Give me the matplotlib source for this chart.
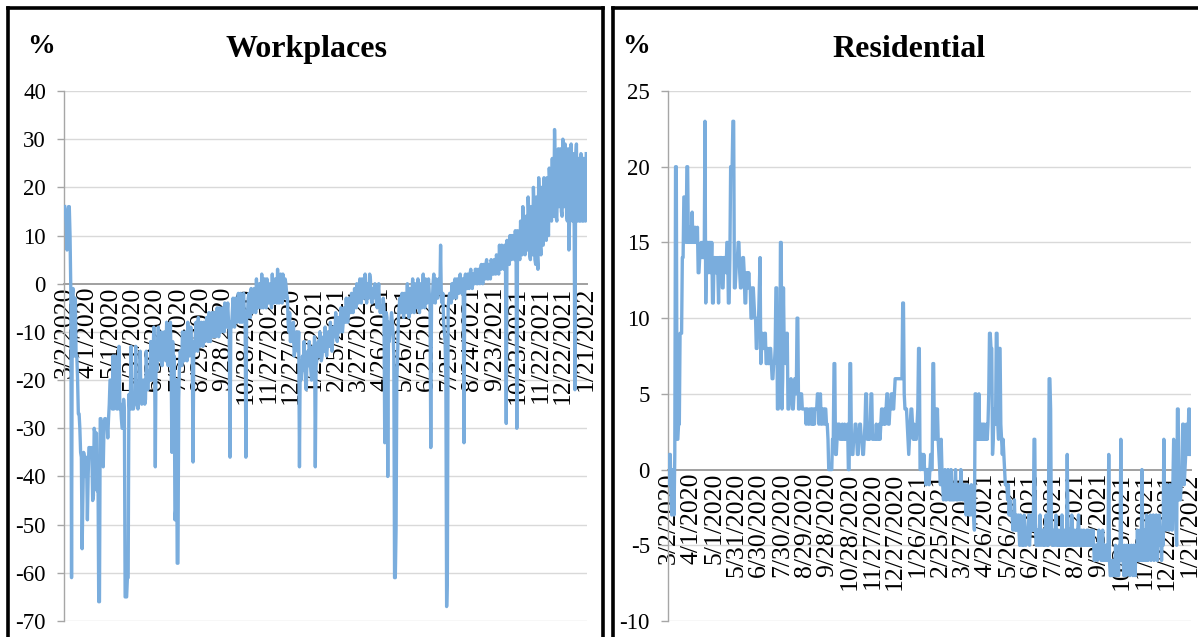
import matplotlib
matplotlib.use("Agg")
import matplotlib.pyplot as plt
from matplotlib.lines import Line2D
import pandas as pd
import numpy as np

plt.rcParams['font.family'] = ['Liberation Serif', 'DejaVu Serif']

start_date = "2020-03-02"

date_labels = ["3/2/2020", "4/1/2020", "5/1/2020", "5/31/2020", "6/30/2020", "7/30/2020",
               "8/29/2020", "9/28/2020", "10/28/2020", "11/27/2020", "12/27/2020", "1/26/2021",
               "2/25/2021", "3/27/2021", "4/26/2021", "5/26/2021", "6/25/2021", "7/25/2021",
               "8/24/2021", "9/23/2021", "10/23/2021", "11/22/2021", "12/22/2021", "1/21/2022"]

workplaces = [
    16, 15, 12, 7, 10, 16, 16,
    10, -1, -61, -2, -1, -10, -15,
    -3, -15, -15, -20, -27, -27, -30,
    -35, -36, -55, -45, -35, -36, -40,
    -36, -38, -49, -40, -34, -34, -35,
    -34, -36, -45, -44, -30, -31, -32,
    -31, -43, -38, -66, -66, -28, -28,
    -29, -30, -38, -30, -28, -28, -29,
    -29, -32, -28, -25, -20, -20, -22,
    -26, -15, -26, -20, -15, -24, -26,
    -26, -22, -13, -26, -25, -28, -30,
    -30, -24, -26, -65, -65, -65, -61,
    -61, -23, -26, -23, -13, -26, -26,
    -26, -25, -24, -13, -22, -25, -26,
    -24, -22, -14, -24, -25, -23, -20,
    -20, -25, -24, -14, -20, -22, -20,
    -18, -20, -12, -20, -18, -15, -9,
    -15, -38, -14, -18, -12, -9, -15,
    -14, -16, -10, -17, -15, -12, -10,
    -15, -16, -8, -14, -17, -15, -10,
    -8, -17, -35, -12, -18, -15, -49,
    -47, -20, -58, -58, -24, -17, -14,
    -15, -17, -10, -12, -16, -14, -10,
    -13, -16, -8, -13, -15, -12, -9,
    -12, -15, -37, -12, -14, -11, -8,
    -12, -14, -7, -12, -13, -10, -8,
    -11, -13, -8, -11, -12, -9, -7,
    -10, -12, -6, -11, -12, -9, -6,
    -9, -11, -6, -10, -11, -8, -5,
    -9, -11, -5, -10, -10, -7, -5,
    -8, -10, -4, -9, -9, -6, -4,
    -8, -10, -36, -8, -9, -6, -3,
    -7, -9, -3, -7, -8, -5, -2,
    -6, -8, -2, -7, -8, -4, -2,
    -6, -8, -36, -6, -7, -3, -2,
    -5, -7, -1, -6, -6, -3, -1,
    -4, -6, 1, -5, -5, -2, 0,
    -4, -5, 2, -4, -5, -1, 1,
    -3, -5, 1, -4, -4, -1, 0,
    -3, -5, 2, -3, -4, 0, 1,
    -3, -4, 3, -3, -4, 0, 2,
    -2, -4, 2, -3, -3, 1, 0,
    -2, -3, -8, -10, -6, -12, -10,
    -10, -12, -8, -15, -14, -12, -10,
    -12, -14, -10, -38, -16, -20, -18,
    -15, -18, -12, -16, -20, -22, -16,
    -14, -17, -12, -15, -18, -20, -15,
    -13, -16, -11, -38, -17, -16, -13,
    -12, -15, -10, -14, -16, -15, -12,
    -11, -14, -9, -13, -15, -13, -10,
    -10, -13, -8, -12, -14, -12, -9,
    -9, -11, -6, -10, -12, -10, -7,
    -8, -10, -5, -9, -10, -8, -5,
    -6, -8, -3, -7, -8, -6, -3,
    -5, -6, -2, -5, -6, -4, -1,
    -4, -5, 0, -4, -4, -2, 1,
    -3, -4, 1, -3, -3, -1, 2,
    -2, -4, 0, -3, -2, 2, 1,
    -3, -4, -1, -3, -2, 0, -1,
    -4, -5, -2, 0, -4, -6, -5,
    -5, -6, -3, -5, -33, -8, -6,
    -7, -40, -8, -12, -10, -8, -6,
    -8, -10, -15, -61, -61, -51, -20,
    -15, -8, -5, -3, -6, -4, -2,
    -5, -7, -2, -4, -6, -3, 0,
    -4, -7, -1, -4, -6, -2, 1,
    -4, -6, 0, -3, -5, -1, 1,
    -3, -6, 0, -3, -5, -1, 2,
    -3, -5, 1, -2, -4, 0, 1,
    -2, -4, -34, -3, -4, 0, 2,
    -2, -4, 1, -2, -3, 0, 1,
    -2, 8, -3, -4, -2, -8, -10,
    -12, -20, -67, -60, -5, -3, -2,
    -3, -4, 0, -2, -3, 0, 1,
    -2, -3, 1, -2, -2, 1, 2,
    -1, -2, 1, -1, -33, 1, 2,
    -1, -1, 2, 0, -1, 2, 3,
    0, -1, 2, 0, 0, 3, 3,
    0, 0, 3, 1, 0, 3, 4,
    1, 0, 4, 1, 1, 4, 5,
    1, 1, 4, 2, 1, 5, 4,
    2, 2, 5, 3, 2, 6, 5,
    3, 2, 8, 4, 3, 8, 6,
    4, 3, 8, 4, -29, 9, 7,
    5, 4, 10, 6, 5, 10, 8,
    6, 5, 11, 7, -30, 11, 9,
    6, 5, 13, 7, 6, 16, 12,
    7, 6, 14, 8, 7, 18, 14,
    6, 5, 16, 7, 6, 20, 15,
    5, 4, 18, 6, 3, 22, 17,
    8, 6, 20, 9, 8, 22, 18,
    10, 9, 22, 12, 10, 24, 20,
    14, 13, 26, 15, 14, 32, 24,
    14, 13, 26, 28, 16, 24, 28,
    15, 14, 30, 18, 16, 29, 26,
    14, 13, 28, 7, 14, 27, 29,
    14, 13, 27, 12, -22, 26, 29,
    13, 14, 26, 13, 13, 27, 26,
    13, 13, 26, 14, 13, 27,
]

residential = [
    -1, 1, 1, -2, -3, -1, 0,
    -3, 1, 20, 20, 2, 2, 3,
    3, 9, 9, 9, 14, 14, 18,
    18, 18, 15, 20, 20, 15, 16,
    15, 16, 15, 17, 15, 16, 15,
    16, 15, 15, 16, 13, 13, 14,
    14, 15, 14, 15, 14, 14, 23,
    11, 14, 15, 15, 13, 15, 15,
    13, 15, 11, 11, 14, 14, 13,
    13, 14, 13, 11, 14, 14, 14,
    14, 12, 12, 14, 14, 14, 13,
    15, 15, 11, 11, 14, 20, 20,
    20, 23, 23, 12, 12, 13, 14,
    14, 15, 15, 13, 12, 12, 13,
    14, 14, 13, 11, 11, 13, 13,
    12, 13, 12, 12, 10, 10, 12,
    12, 11, 10, 10, 8, 8, 10,
    10, 12, 14, 7, 8, 9, 8,
    8, 9, 9, 7, 7, 8, 7,
    7, 8, 8, 7, 6, 6, 7,
    7, 8, 12, 12, 4, 4, 6,
    5, 15, 15, 4, 6, 12, 8,
    8, 7, 9, 9, 4, 4, 5,
    5, 6, 5, 4, 4, 5, 6,
    6, 5, 10, 10, 4, 4, 5,
    5, 5, 4, 4, 4, 4, 4,
    3, 4, 4, 3, 3, 4, 4,
    3, 4, 3, 4, 3, 4, 4,
    4, 5, 5, 3, 4, 5, 3,
    3, 4, 4, 3, 4, 4, 3,
    3, 2, 0, 0, 0, 0, 0,
    2, 2, 7, 7, 1, 1, 2,
    3, 3, 3, 2, 2, 2, 3,
    2, 2, 3, 2, 2, 2, 3,
    0, 0, 7, 7, 2, 1, 1,
    2, 2, 3, 3, 2, 1, 1,
    2, 3, 3, 2, 2, 1, 1,
    2, 3, 5, 5, 2, 2, 3,
    2, 3, 5, 5, 2, 2, 2,
    2, 2, 3, 2, 2, 2, 3,
    2, 3, 4, 4, 3, 3, 4,
    3, 4, 5, 5, 3, 3, 4,
    4, 5, 5, 4, 4, 5, 6,
    6, 6, 6, 6, 6, 6, 6,
    6, 6, 11, 11, 5, 4, 4,
    4, 3, 2, 1, 2, 3, 4,
    4, 3, 2, 3, 2, 2, 2,
    3, 4, 8, 8, 0, 0, 1,
    1, 0, 1, 0, 0, -1, 0,
    0, 0, -1, 0, 1, 0, 0,
    7, 7, 2, 3, 4, 2, 4,
    2, 1, 0, -1, 2, 0, -1,
    -2, -1, 0, -2, -2, -1, 0,
    -1, -2, -2, 0, -2, -1, -2,
    -2, -1, 0, -2, -1, -2, -1,
    -1, -2, 0, -1, -2, -1, -2,
    -2, -1, -3, -2, -1, -2, -3,
    -3, -2, -1, -3, -2, -3, -4,
    5, 5, 2, 3, 2, 5, 2,
    2, 3, 2, 3, 2, 3, 2,
    2, 3, 2, 3, 5, 9, 9,
    8, 8, 1, 2, 4, 4, 3,
    9, 9, 3, 2, 8, 8, 3,
    2, 1, 2, 1, 0, -1, -1,
    -1, -2, -1, -3, -2, -3, -3,
    -3, -4, -3, -2, -4, -3, -4,
    -4, -3, -4, -5, -3, -4, -5,
    -4, -5, -3, -4, -5, -4, -4,
    -4, -3, -5, -4, -4, -3, -4,
    -4, 2, 2, -4, -5, -4, -4,
    -5, -4, -3, -5, -4, -4, -5,
    -4, -5, -4, -3, -5, -4, -5,
    6, 6, 4, -4, -5, -4, -5,
    -5, -4, -3, -5, -5, -4, -5,
    -5, -4, -5, -3, -5, -5, -4,
    -5, -4, -5, 1, -4, -5, -4,
    -4, -5, -3, -4, -5, -4, -5,
    -5, -4, -5, -4, -3, -5, -5,
    -5, -4, -5, -5, -4, -5, -5,
    -5, -4, -5, -4, -5, -5, -4,
    -5, -5, -4, -5, -6, -5, -5,
    -5, -6, -5, -4, -5, -5, -6,
    -5, -4, -6, -5, -5, -6, -5,
    -5, -6, 1, -6, -7, -7, -6,
    -7, -6, -7, -7, -5, -7, -6,
    -6, -7, -5, -6, 2, -6, -5,
    -6, -7, -5, -6, -7, -5, -6,
    -6, -5, -7, -6, -5, -6, -7,
    -5, -6, -7, -5, -6, -4, -6,
    -5, -6, -4, -6, 0, -5, -6,
    -5, -4, -6, -3, -5, -6, -4,
    -5, -3, -6, -4, -5, -3, -6,
    -4, -5, -3, -6, -4, -5, -3,
    -4, -5, -6, -4, -5, 2, -3,
    -2, -4, -1, -3, -2, -4, -1,
    -3, -2, -4, -1, 2, -3, -2,
    -4, -5, 4, 4, -2, -1, -2,
    -1, 0, 3, 3, -1, 0, 1,
    3, 2, 1, 4, 4, 1,
]

titles = ["Workplaces", "Residential"]
y_ticks = [list(range(-70, 41, 10)), list(range(-10, 26, 5))]

W, H = 1198, 637
fig = plt.figure(figsize=(W / 100, H / 100), dpi=100)
fig.patch.set_facecolor("white")

def fx(px):
    return px / W

def fy(py):
    return 1 - py / H

start = pd.Timestamp(start_date)
tick_pos = [(pd.Timestamp(pd.to_datetime(lbl, format="%m/%d/%Y")) - start).days for lbl in date_labels]

line_color = "#7AADDD"
series = [workplaces, residential]
axes_left_px = [64, 668]
axes_w_px = 523
axes_top_px, axes_bot_px = 91, 621

for i in range(2):
    ax = fig.add_axes([fx(axes_left_px[i]), fy(axes_bot_px), fx(axes_w_px),
                       (axes_bot_px - axes_top_px) / H])
    vals = series[i]
    ax.plot(np.arange(len(vals)), vals, color=line_color, lw=2.4,
            solid_joinstyle="round", zorder=3)
    ax.set_xlim(-1, 692)
    ax.set_ylim(y_ticks[i][0], y_ticks[i][-1])
    ax.set_yticks(y_ticks[i])
    ax.set_yticklabels([str(t) for t in y_ticks[i]])
    for t in y_ticks[i]:
        if t != 0:
            ax.axhline(t, color="#D9D9D9", lw=1.0, zorder=1)
    ax.spines["top"].set_visible(False)
    ax.spines["right"].set_visible(False)
    ax.spines["left"].set_color("#A6A6A6")
    ax.spines["left"].set_linewidth(1.0)
    ax.spines["bottom"].set_position(("data", 0))
    ax.spines["bottom"].set_color("#A0A0A0")
    ax.spines["bottom"].set_linewidth(1.4)
    ax.spines["bottom"].set_zorder(2)
    ax.set_xticks(tick_pos)
    ax.set_xticklabels(date_labels, rotation=90, ha="center", va="top")
    ax.tick_params(axis="x", length=0, pad=2, labelsize=18.5, colors="black")
    ax.tick_params(axis="y", length=5, width=1, color="#A6A6A6", pad=8,
                   labelsize=16.5, labelcolor="black", direction="out")
    ax.set_facecolor("none")

# titles and % labels
fig.text(fx(306), fy(57), titles[0], ha="center", va="baseline",
         fontsize=23, fontweight="bold")
fig.text(fx(909), fy(57), titles[1], ha="center", va="baseline",
         fontsize=23, fontweight="bold")
fig.text(fx(27), fy(53), "%", ha="left", va="baseline", fontsize=20, fontweight="bold")
fig.text(fx(622), fy(53), "%", ha="left", va="baseline", fontsize=20, fontweight="bold")

# panel borders
blw = 2.6
def fline(xs, ys):
    fig.add_artist(Line2D([fx(x) for x in xs], [fy(y) for y in ys],
                          transform=fig.transFigure, color="black", lw=blw,
                          solid_capstyle="projecting"))

fline([8, 8], [7.5, 660])
fline([8, 602.5], [7.5, 7.5])
fline([602.5, 602.5], [7.5, 660])
fline([613, 613], [7.5, 660])
fline([613, 1220], [7.5, 7.5])

fig.savefig("out.png", dpi=100, facecolor="white")
